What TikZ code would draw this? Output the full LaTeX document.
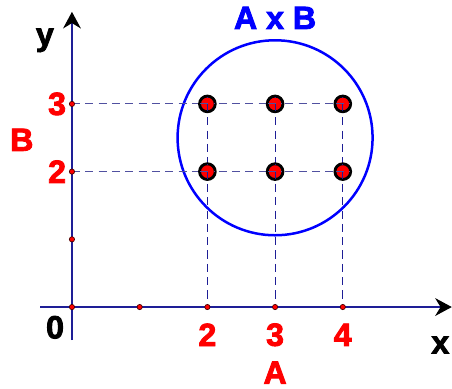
\documentclass[tikz,border=0pt]{standalone}
\usepackage{fontspec}
\setmainfont{Liberation Sans}
\newfontfamily\heavyfont{Liberation Sans Bold}[FakeBold=2.6]
\usetikzlibrary{arrows.meta,positioning}
\definecolor{axisblue}{RGB}{30,30,150}
\definecolor{gridblue}{RGB}{80,80,160}
\tikzset{
  lbl/.style={font=\fontsize{13.5}{15}\selectfont\heavyfont, inner sep=0pt},
  redlbl/.style={lbl, text=red},
  smalldot/.style={circle, draw=black!70!red, fill=red, line width=0.3pt, inner sep=0pt, minimum size=2.2pt},
  bigdot/.style={circle, draw=black, fill=red, line width=1.2pt, inner sep=0pt, minimum size=6.6pt},
  guide/.style={dashed, dash pattern=on 3.4pt off 2.2pt, line width=0.45pt}
}
\begin{document}
\begin{tikzpicture}[x=1cm,y=1cm]
        \useasboundingbox (-1.063,-1.196) rectangle (5.613,4.535);

        % Eixos
        \draw[axisblue, line width=0.5pt, -{Stealth[black, length=7pt, width=7.5pt]}] (-0.47,0) -- (5.61,0);
        \draw[axisblue, line width=0.5pt, -{Stealth[black, length=7pt, width=7.5pt]}] (0,-0.49) -- (0,4.36);
        \node[lbl] (ylab) at (-0.40,3.94) {y};
        \node[lbl] (xlab) at (5.44,-0.56) {x};
        \node[lbl] (zero) at (-0.25,-0.30) {0};

        % Conjunto A x B
        \draw[blue, line width=1.05pt] (3,2.5) circle (1.44);
        \node[lbl, text=blue] (axb) at (3,4.27) {A x B};

        % Linhas de chamada
        \foreach \j in {2,3}
          \draw[guide, gridblue] (0,\j) -- (4,\j);
        \foreach \i in {2,3,4}
          \draw[guide, axisblue] (\i,3) -- (\i,0);

        % Pontos nos eixos
        \foreach \i in {0,...,4}
          \node[smalldot] (px\i) at (\i,0) {};
        \foreach \j in {1,2,3}
          \node[smalldot] (py\j) at (0,\j) {};

        % Pares ordenados
        \foreach \i in {2,3,4}
          \foreach \j in {2,3}
            \node[bigdot] (p\i\j) at (\i,\j) {};
        \foreach \i in {2,3,4}
          \foreach \j in {2,3}
            \draw[guide, axisblue] ([yshift=-3pt]p\i\j.center) -- ([yshift=3pt]p\i\j.center);
        \foreach \i in {2,3,4}
          \foreach \j in {2,3}
            \draw[guide, gridblue] ([xshift=-3pt]p\i\j.center) -- ([xshift=3pt]p\i\j.center);

        % Conjunto A
        \foreach \i in {2,3,4}
          \node[redlbl] (a\i) at (\i,-0.41) {\i};
        \node[redlbl] (alab) at (3,-0.97) {A};

        % Conjunto B
        \foreach \j in {2,3}
          \node[redlbl] (b\j) at (-0.22,\j) {\j};
        \node[redlbl] (blab) at (-0.74,2.47) {B};
\end{tikzpicture}
\end{document}
